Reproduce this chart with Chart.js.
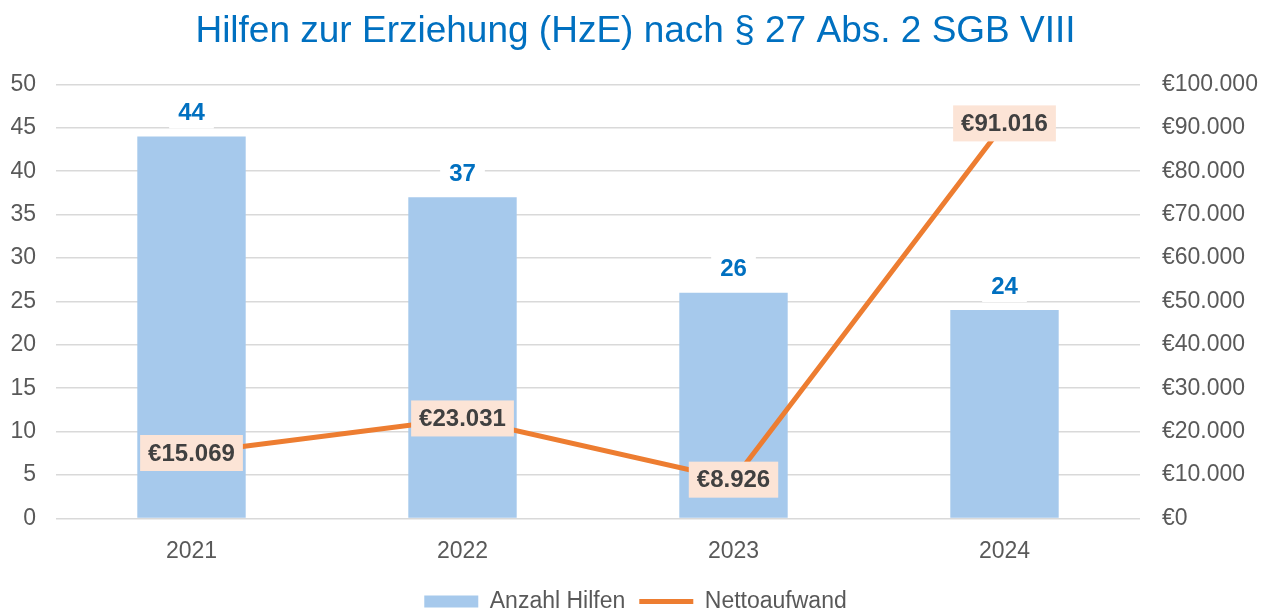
<!DOCTYPE html>
<html>
<head>
<meta charset="utf-8">
<script src="https://cdn.jsdelivr.net/npm/chart.js@4/dist/chart.umd.min.js"></script>
<style>
  html, body { margin: 0; padding: 0; background: #fff; }
  #wrap { width: 1271px; height: 609px; }
</style>
</head>
<body>
<div id="wrap"><canvas id="chart"></canvas></div>
<script>
const YEARS = ['2021', '2022', '2023', '2024'];
const ANZAHL_HILFEN = [44, 37, 26, 24];
const NETTOAUFWAND = [15069, 23031, 8926, 91016];

const BLUE_BAR = '#A6C9EC';
const ORANGE = '#ED7D31';
const TEXT = '#595959';
const GRID = '#D9D9D9';
const FONT = '"Liberation Sans", Arial, sans-serif';

function euro(n) {
  return '€' + String(Math.round(n)).replace(/\B(?=(\d{3})+(?!\d))/g, '.');
}

// simple data label plugin (no datalabels plugin available)
const labelPlugin = {
  id: 'valueLabels',
  afterDatasetsDraw(chart) {
    const ctx = chart.ctx;
    ctx.save();
    ctx.font = 'bold 24px ' + FONT;
    ctx.textAlign = 'center';
    ctx.textBaseline = 'middle';
    chart.data.datasets.forEach((ds, di) => {
      const meta = chart.getDatasetMeta(di);
      meta.data.forEach((el, i) => {
        const v = ds.data[i];
        if (ds.type === 'bar') {
          const txt = String(v);
          const w = ctx.measureText(txt).width + 18;
          const y = el.y - 24;
          ctx.fillStyle = '#fff';
          ctx.fillRect(el.x - w / 2, y - 16, w, 32);
          ctx.fillStyle = '#0070C0';
          ctx.fillText(txt, el.x, y + 1);
        } else {
          const txt = euro(v);
          const w = ctx.measureText(txt).width + 16;
          ctx.fillStyle = '#FCE4D6';
          ctx.fillRect(el.x - w / 2, el.y - 18, w, 36);
          ctx.fillStyle = '#404040';
          ctx.fillText(txt, el.x, el.y + 1);
        }
      });
    });
    ctx.restore();
  }
};

new Chart(document.getElementById('chart'), {
  data: {
    labels: YEARS,
    datasets: [
      {
        type: 'line',
        label: 'Nettoaufwand',
        data: NETTOAUFWAND,
        yAxisID: 'y2',
        borderColor: ORANGE,
        backgroundColor: ORANGE,
        borderWidth: 5,
        pointRadius: 0,
        pointStyle: 'line',
        tension: 0,
        order: 0
      },
      {
        type: 'bar',
        label: 'Anzahl Hilfen',
        data: ANZAHL_HILFEN,
        yAxisID: 'y',
        backgroundColor: BLUE_BAR,
        borderWidth: 0,
        pointStyle: 'rect',
        barPercentage: 0.4,
        categoryPercentage: 1,
        order: 1
      }
    ]
  },
  plugins: [labelPlugin],
  options: {
    responsive: true,
    maintainAspectRatio: false,
    animation: false,
    layout: { padding: { left: 0, right: 0, bottom: -14 } },
    plugins: {
      title: {
        display: true,
        text: 'Hilfen zur Erziehung (HzE) nach § 27 Abs. 2 SGB VIII',
        color: '#0070C0',
        font: { family: FONT, size: 37, weight: 'normal' },
        padding: { top: 10, bottom: 30 }
      },
      legend: {
        position: 'bottom',
        reverse: true,
        labels: {
          color: TEXT,
          font: { family: FONT, size: 23 },
          usePointStyle: true,
          pointStyleWidth: 54,
          boxHeight: 12,
          padding: 14
        }
      },
      tooltip: { enabled: false }
    },
    scales: {
      x: {
        grid: { display: false },
        border: { display: false },
        ticks: { color: TEXT, font: { family: FONT, size: 23 }, padding: 11 }
      },
      y: {
        position: 'left',
        min: 0,
        max: 50,
        afterFit: s => { s.width = 56; },
        ticks: { stepSize: 5, color: TEXT, font: { family: FONT, size: 23 }, padding: 20 },
        grid: { color: GRID, lineWidth: 1.5, drawTicks: false },
        border: { display: false }
      },
      y2: {
        position: 'right',
        min: 0,
        max: 100000,
        afterFit: s => { s.width = 131; },
        ticks: { stepSize: 10000, color: TEXT, font: { family: FONT, size: 23 }, padding: 22, callback: v => euro(v) },
        grid: { drawOnChartArea: false, drawTicks: false },
        border: { display: false }
      }
    }
  }
});
</script>
</body>
</html>
